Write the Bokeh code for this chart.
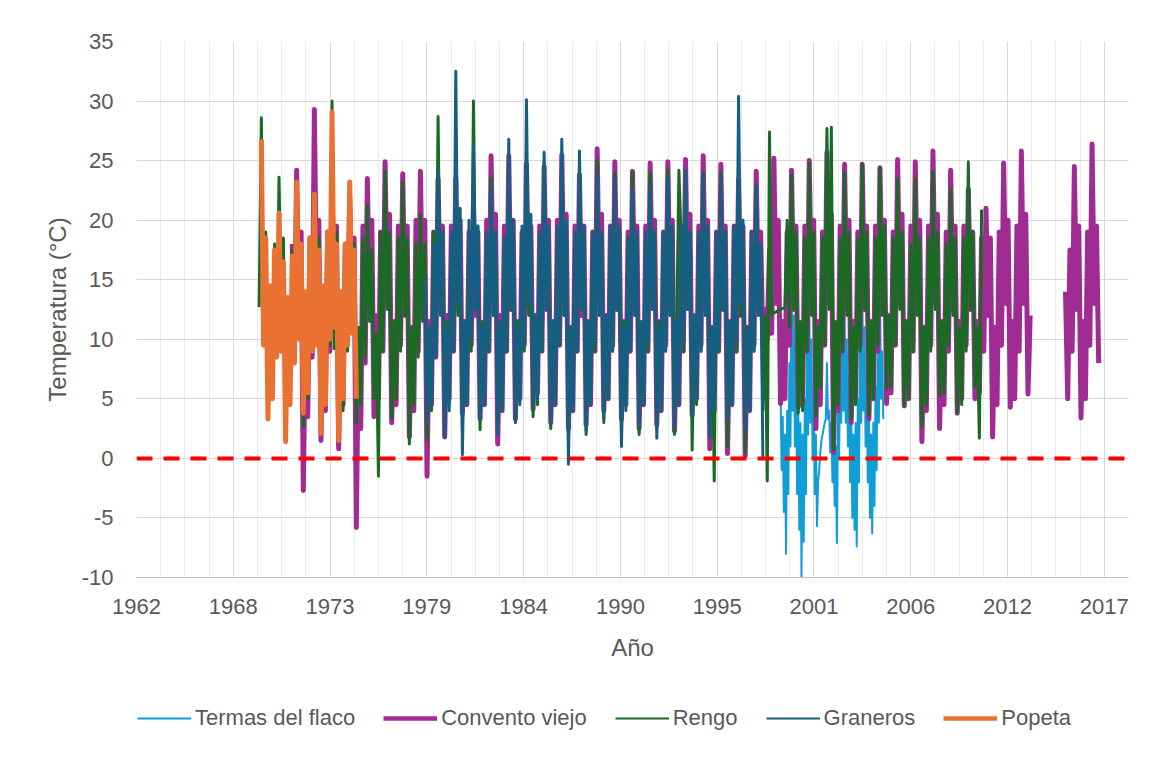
import datetime
from math import nan
from bokeh.plotting import figure
from bokeh.layouts import column
from bokeh.models import (Range1d, FixedTicker, Span, Legend, LegendItem)
from bokeh.embed import file_html
from bokeh.resources import INLINE

# ---------------- data ----------------
# 8 readings per year (about every 1.5 months), first reading near early January.
# nan = no data.
popeta_start = 1970
popeta = [
    26.8, 9.5, 18.5, 3.3, 14.5, 5.0, 17.5, 8.5,   # 1970
    20.6, 9.0, 16.5, 1.4, 13.5, 4.5, 17.0, 8.0,   # 1971
    23.2, 10.0, 18.0, 3.8, 14.0, 5.5, 18.5, 9.0,  # 1972
    22.2, 9.5, 17.5, 2.1, 14.5, 4.5, 19.0, 10.0,  # 1973
    29.1, 11.0, 18.0, 1.5, 14.0, 5.0, 18.0, 9.5,  # 1974
    23.2, 10.5, 17.5, 5.0,                         # 1975
]

convento_start = 1971
convento = [
    nan, nan, nan, nan, nan, nan, 18.0, 9.5,      # 1971
    24.2, 12.5, 19.0, -2.7, 11.0, 3.5, 18.5, 8.5, # 1972
    29.3, 13.0, 20.0, 1.5, 12.0, 4.0, 19.0, 9.0,  # 1973
    23.0, 12.0, 19.5, 0.8, 11.5, 4.5, 18.0, 9.5,  # 1974
    22.0, 11.5, 18.5, -5.8, 10.5, 2.5, 19.5, 8.0, # 1975
    23.5, 12.5, 20.0, 3.5, 12.0, 5.0, 19.0, 9.0,  # 1976
    24.9, 13.0, 20.5, 3.0, 11.5, 4.5, 19.5, 9.5,  # 1977
    23.9, 12.0, 19.5, 1.8, 11.0, 4.0, 20.0, 9.0,  # 1978
    24.1, 12.5, 20.0, -1.5, 11.5, 4.5, 19.0, 8.5, # 1979
    23.5, 13.0, 19.5, 1.8, 12.0, 5.0, 19.5, 9.0,  # 1980
    23.5, 12.5, 20.0, 3.8, 11.5, 4.5, 19.0, 9.5,  # 1981
    21.5, 12.0, 19.0, 3.3, 11.0, 4.5, 20.0, 9.0,  # 1982
    25.4, 13.0, 20.5, 1.2, 12.0, 4.0, 19.5, 9.0,  # 1983
    25.4, 12.5, 20.0, 3.3, 11.5, 5.0, 19.0, 9.5,  # 1984
    24.7, 13.0, 19.5, 4.1, 12.0, 5.5, 19.5, 9.0,  # 1985
    24.5, 12.5, 20.0, 3.0, 11.5, 4.5, 20.0, 9.5,  # 1986
    25.5, 13.0, 20.5, 2.5, 11.0, 4.0, 19.5, 9.0,  # 1987
    23.8, 12.0, 19.5, 2.8, 11.5, 4.5, 19.0, 9.0,  # 1988
    26.0, 13.0, 20.5, 4.0, 12.0, 5.0, 19.5, 9.5,  # 1989
    24.9, 12.5, 20.0, 3.3, 11.5, 4.5, 19.0, 9.0,  # 1990
    24.1, 12.5, 19.5, 2.5, 11.0, 4.5, 19.5, 9.0,  # 1991
    24.8, 13.0, 20.0, 2.8, 11.5, 4.0, 19.0, 9.5,  # 1992
    24.9, 12.5, 20.0, 2.3, 11.0, 4.5, 19.5, 9.0,  # 1993
    25.1, 13.0, 20.5, 3.6, 12.0, 5.0, 19.5, 9.5,  # 1994
    25.4, 12.5, 20.0, 0.8, 11.0, 4.0, 19.0, 9.0,  # 1995
    24.7, 12.5, 19.5, 0.4, 11.5, 4.5, 19.5, 9.0,  # 1996
    23.5, 12.0, 19.5, 0.2, 11.0, 4.0, 19.0, 9.5,  # 1997
    24.1, 12.5, 19.0, 9.5, 12.5, 10.0, 17.5, 10.5,# 1998
    25.2, 13.0, 20.0, 4.6, 11.5, 5.0, 19.0, 9.5,  # 1999
    24.2, 12.5, 19.5, 4.3, 11.0, 4.5, 19.5, 9.0,  # 2000
    25.0, 13.0, 20.0, 2.5, 11.5, 4.5, 19.0, 9.5,  # 2001
    25.7, 13.0, 20.5, 0.5, 11.0, 4.0, 19.5, 9.0,  # 2002
    24.7, 12.5, 20.0, 3.0, 11.5, 5.0, 19.0, 9.5,  # 2003
    24.7, 12.5, 19.5, 3.3, 11.5, 5.0, 19.5, 9.0,  # 2004
    24.4, 13.0, 20.0, 4.6, 12.0, 5.5, 19.0, 9.5,  # 2005
    25.1, 13.0, 20.5, 4.4, 11.5, 5.0, 19.5, 9.0,  # 2006
    24.9, 12.5, 20.0, 1.4, 11.0, 4.0, 19.5, 9.5,  # 2007
    25.8, 13.0, 20.5, 2.5, 11.5, 4.5, 19.0, 9.0,  # 2008
    24.2, 12.5, 19.5, 3.8, 11.5, 5.0, 19.5, 9.5,  # 2009
    22.6, 12.5, 19.0, 5.0, 11.5, 5.5, 18.5, 9.0,  # 2010
    21.0, 12.0, 18.5, 1.8, 11.0, 4.5, 19.0, 9.5,  # 2011
    24.8, 13.0, 20.0, 4.3, 11.5, 5.0, 19.5, 9.0,  # 2012
    25.8, 13.0, 20.5, 5.4, 12.0, nan, nan, nan,   # 2013
    nan, nan, nan, nan, nan, nan, nan, nan,       # 2014
    nan, nan, nan, nan, 14.0, 5.0, 17.5, 9.0,     # 2015
    24.5, 12.5, 19.5, 3.4, 11.5, 5.0, 19.0, 9.5,  # 2016
    26.4, 13.0, 19.5, 8.0,                         # 2017
]

rengo_start = 1969
rengo = [
    nan, nan, nan, nan, nan, nan, nan, 12.7,      # 1969
    28.6, 12.0, 19.0, 3.5, 11.0, 5.0, 18.0, 9.0,  # 1970
    23.6, 12.5, 18.5, 2.5, 11.5, 4.5, 17.5, 8.5,  # 1971
    21.0, 12.0, 18.0, 2.7, 11.0, 5.0, 18.5, 9.0,  # 1972
    22.0, 12.5, 18.5, 2.5, 11.5, 4.5, 18.0, 9.5,  # 1973
    30.0, 9.2, 19.0, 2.0, 11.0, 4.0, 18.0, 9.0,   # 1974
    22.0, 12.0, 18.0, 3.0, 11.0, 4.5, 18.5, 8.5,  # 1975
    21.2, 11.5, 17.5, 5.0, 10.5, -1.5, 19.0, 9.0, # 1976
    24.1, 12.5, 19.0, 3.4, 11.5, 5.0, 18.5, 9.0,  # 1977
    23.2, 12.0, 18.5, 1.2, 11.0, 4.5, 18.0, 8.5,  # 1978
    20.5, 11.5, 18.0, 1.5, 11.0, 4.0, 19.0, 9.0,  # 1979
    28.7, 12.5, 19.0, 2.0, 11.5, 4.5, 18.5, 9.0,  # 1980
    24.0, 12.0, 19.0, 2.5, 11.0, 4.5, 18.0, 9.0,  # 1981
    30.0, 12.5, 19.5, 2.4, 11.5, 5.0, 18.5, 9.5,  # 1982
    23.5, 12.0, 18.5, 3.0, 11.0, 4.5, 18.0, 9.0,  # 1983
    25.4, 12.5, 19.0, 3.0, 11.5, 5.0, 18.5, 9.0,  # 1984
    24.0, 12.0, 18.5, 3.5, 11.0, 4.5, 18.0, 9.0,  # 1985
    25.0, 12.5, 19.0, 2.5, 11.5, 5.0, 18.5, 9.5,  # 1986
    24.0, 12.0, 18.5, 1.5, 11.0, 4.5, 18.0, 9.0,  # 1987
    24.5, 12.5, 19.0, 2.0, 11.5, 4.5, 18.5, 9.0,  # 1988
    25.0, 12.0, 18.5, 3.0, 11.0, 5.0, 18.0, 9.0,  # 1989
    24.0, 12.5, 19.0, 2.0, 11.5, 4.5, 18.5, 9.5,  # 1990
    24.0, 12.0, 18.5, 2.0, 11.0, 4.5, 18.0, 9.0,  # 1991
    24.0, 12.5, 19.0, 2.5, 11.5, 5.0, 18.5, 9.0,  # 1992
    24.2, 12.0, 18.5, 2.0, 11.0, 24.2, 18.5, 9.0, # 1993
    24.0, 12.5, 19.0, 0.7, 11.5, 4.5, 18.5, 9.0,  # 1994
    24.0, 12.0, 18.5, 3.0, 11.0, -1.9, 18.0, 9.0, # 1995
    24.0, 12.5, 19.0, 1.0, 11.5, 4.5, 18.5, 9.0,  # 1996
    23.5, 12.0, 18.5, 0.5, 11.0, 4.5, 18.0, 9.0,  # 1997
    23.0, 12.0, 18.0, 4.0, 12.0, -1.9, 27.4, 12.1,# 1998
    12.2, 12.3, 12.4, 12.5, 12.6, 12.7, 20.0, 11.0,# 1999
    23.8, 12.5, 19.0, 3.8, 11.5, 4.0, 18.5, 9.0,  # 2000
    24.8, 12.0, 19.0, 3.5, 11.0, 5.9, 18.5, 9.5,  # 2001
    27.7, 12.5, 27.8, 0.7, 11.5, 4.5, 18.5, 9.0,  # 2002
    24.0, 12.0, 19.0, 3.3, 11.0, 4.5, 18.5, 9.0,  # 2003
    24.7, 12.5, 19.0, 3.7, 11.5, 5.0, 18.5, 9.5,  # 2004
    24.4, 12.0, 19.5, 5.9, 12.0, 6.0, 18.5, 9.5,  # 2005
    23.5, 12.5, 19.0, 4.4, 11.5, 5.0, 18.0, 9.0,  # 2006
    23.5, 12.0, 18.5, 2.7, 11.0, 4.5, 18.5, 9.0,  # 2007
    24.1, 12.5, 19.0, 5.3, 11.5, 5.5, 18.0, 9.5,  # 2008
    22.6, 12.0, 18.5, 3.8, 11.0, 4.5, 18.5, 9.0,  # 2009
    24.9, 12.5, 19.0, 6.0, 11.0, 1.7, 20.9,       # 2010
]

graneros_start = 1979
graneros = [
    nan, nan, 15.0, 3.0, 11.0, 4.5, 18.0, 8.5,    # 1979
    24.1, 12.0, 19.0, 1.8, 11.0, 4.0, 19.0, 9.0,  # 1980
    32.5, 13.0, 21.0, 0.3, 11.5, 4.5, 20.0, 10.0, # 1981
    26.4, 12.5, 19.5, 3.3, 11.0, 4.5, 19.0, 9.0,  # 1982
    22.9, 12.0, 19.0, 2.0, 11.5, 4.0, 18.5, 9.0,  # 1983
    26.8, 12.5, 20.0, 3.1, 11.0, 4.5, 19.5, 9.5,  # 1984
    30.1, 13.0, 20.5, 4.4, 12.0, 5.0, 19.0, 9.0,  # 1985
    25.7, 12.5, 19.5, 3.0, 11.5, 4.5, 19.5, 9.5,  # 1986
    26.8, 12.0, 20.0, -0.5, 11.0, 4.0, 19.0, 9.0, # 1987
    25.8, 12.5, 19.5, 2.3, 11.5, 4.5, 19.0, 9.5,  # 1988
    24.1, 12.0, 19.0, 3.3, 12.0, 5.0, 19.5, 9.0,  # 1989
    23.6, 12.5, 19.5, 1.0, 11.0, 4.0, 18.5, 9.0,  # 1990
    22.6, 12.0, 19.0, 2.7, 11.5, 4.5, 19.0, 9.5,  # 1991
    22.9, 12.5, 19.0, 1.7, 11.0, 4.0, 19.0, 9.0,  # 1992
    23.5, 12.0, 19.5, 2.7, 11.5, 4.5, 19.5, 9.5,  # 1993
    24.2, 12.5, 19.0, 3.6, 12.0, 5.0, 19.0, 9.0,  # 1994
    23.8, 12.0, 19.5, 1.8, 11.0, 4.0, 19.0, 9.0,  # 1995
    23.5, 12.5, 19.0, 3.3, 11.5, 4.5, 19.5, 9.5,  # 1996
    30.4, 13.0, 20.0, 2.5, 11.0, 4.0, 19.0, 9.0,  # 1997
    22.9, 12.0, 18.0, 0.1,                         # 1998
]

# Termas del flaco: 16 readings per year
termas_start = 1999
termas = [
    nan, nan, nan, nan, nan, nan, 5.9, -1.0, 3.5, -4.5, 2.0, -8.0, 4.0, -3.0, 8.0, 1.0,          # 1999
    15.1, 4.0, 12.0, 1.0, 8.0, -3.0, 5.0, -6.0, 3.0, -10.0, 2.0, -7.0, 5.0, -3.0, 9.0, 2.0,      # 2000
    13.1, 3.0, 10.0, 0.0, 6.0, -3.0, 2.0, -5.7, -1.9, -1.0, 0.5, 1.5, 2.0, 2.5, 3.0, 3.3,        # 2001
    8.0, 3.3, 4.0, 0.5, 3.0, -2.0, 2.0, -4.0, 1.0, -7.1, 4.0, 0.0, 8.0, 3.0, 13.7, 4.0,          # 2002
    12.0, 3.0, 10.0, 1.0, 7.0, -2.0, 4.0, -5.0, 2.0, -6.0, 3.0, -7.4, 5.0, -2.0, 9.0, 3.0,       # 2003
    14.8, 4.0, 11.0, 1.0, 7.0, -2.0, 4.0, -5.0, 2.0, -6.3, 3.0, -4.0, 6.0, -1.0, 10.0, 3.0,      # 2004
    13.7, 5.0, 9.0, 3.3,                                                                          # 2005
]

series_names = ["Termas del flaco", "Convento viejo", "Rengo", "Graneros", "Popeta"]
series_colors = ["#0F9ED5", "#A02B93", "#196B24", "#156082", "#E97132"]
readings_per_year = [16, 8, 8, 8, 8]
data_widths = [2, 5, 3, 3, 5]          # drawn width of the dense traces
legend_widths = [2, 4.5, 2.2, 2.2, 4.5]

# Excel date axis (serial days): labels every 2000 days, grid every 500 days
x_tick_serials = [23000, 25000, 27000, 29000, 31000, 33000, 35000, 37000, 39000, 41000, 43000]
x_tick_labels = ["1962", "1968", "1973", "1979", "1984", "1990", "1995", "2001", "2006", "2012", "2017"]
x_min_serial, x_max_serial, x_minor_step = 23000, 43500, 500
y_ticks = [-10, -5, 0, 5, 10, 15, 20, 25, 30, 35]

# ---------------- helpers ----------------
EPOCH = datetime.date(1899, 12, 30)
PHASE = 0.03


def year_to_serial(y):
    yr = int(y)
    d0 = datetime.date(yr, 1, 1)
    d1 = datetime.date(yr + 1, 1, 1)
    return (d0 - EPOCH).days + (y - yr) * (d1 - d0).days


def times(start, vals, per_year):
    return [year_to_serial(start + PHASE + i / per_year) for i in range(len(vals))]


FONT = "Liberation Sans"
TXT = "#595959"
FS = "22px"

p = figure(frame_width=992, frame_height=536,
           x_range=Range1d(x_min_serial, x_max_serial), y_range=Range1d(-10, 35),
           output_backend="svg", toolbar_location=None,
           min_border_left=136, min_border_right=44, min_border_top=41, min_border_bottom=103)
p.outline_line_color = None
p.background_fill_color = "white"
p.border_fill_color = "white"

# grids
p.xgrid.ticker = FixedTicker(ticks=x_tick_serials,
                             minor_ticks=list(range(x_min_serial, x_max_serial + 1, x_minor_step)))
p.xgrid.grid_line_color = "#d9d9d9"
p.xgrid.minor_grid_line_color = "#ececec"
p.ygrid.ticker = FixedTicker(ticks=y_ticks)
p.ygrid.grid_line_color = "#d9d9d9"

# axes
p.xaxis.ticker = FixedTicker(ticks=x_tick_serials)
p.xaxis.major_label_overrides = dict(zip(x_tick_serials, x_tick_labels))
p.yaxis.ticker = FixedTicker(ticks=y_ticks)
p.yaxis.major_label_overrides = {t: str(t) for t in y_ticks}
for ax in (p.xaxis, p.yaxis):
    ax.major_tick_out = 0
    ax.major_tick_in = 0
    ax.minor_tick_out = 0
    ax.minor_tick_in = 0
    ax.major_label_text_font = FONT
    ax.major_label_text_font_size = FS
    ax.major_label_text_color = TXT
    ax.axis_label_text_font = FONT
    ax.axis_label_text_font_size = "24px"
    ax.axis_label_text_font_style = "normal"
    ax.axis_label_text_color = TXT
p.xaxis.axis_line_color = "#bfbfbf"
p.yaxis.axis_line_color = None
p.xaxis.axis_label = "Año"
p.yaxis.axis_label = "Temperatura (°C)"
p.xaxis.major_label_standoff = 21
p.xaxis.axis_label_standoff = 17
p.yaxis.major_label_standoff = 23
p.yaxis.axis_label_standoff = 8

data = [(termas_start, termas), (convento_start, convento), (rengo_start, rengo),
        (graneros_start, graneros), (popeta_start, popeta)]
for (start, vals), col, w, n in zip(data, series_colors, data_widths, readings_per_year):
    p.line(times(start, vals, n), vals, line_color=col, line_width=w, line_join="round")

p.add_layout(Span(location=0, dimension="width", line_color="#FF0000",
                  line_width=4, line_dash="16 11"))

# ---------------- legend strip below the chart ----------------
# Same borders as the chart so the two frames line up; the series are drawn again
# here (outside this strip's visible y-range) only to provide the legend swatches.
pl = figure(frame_width=992, frame_height=77,
            x_range=Range1d(x_min_serial, x_max_serial), y_range=Range1d(1000, 1001),
            output_backend="svg", toolbar_location=None,
            min_border_left=136, min_border_right=44, min_border_top=0, min_border_bottom=0,
            x_axis_type=None, y_axis_type=None)
pl.outline_line_color = None
pl.grid.visible = False
pl.background_fill_color = "white"
pl.border_fill_color = "white"
swatches = [pl.line(times(start, vals, n), vals, line_color=c, line_width=lw)
            for (start, vals), c, lw, n in zip(data, series_colors, legend_widths, readings_per_year)]
legend = Legend(items=[LegendItem(label=nm, renderers=[r]) for nm, r in zip(series_names, swatches)],
                orientation="horizontal", location=(1, 26))
legend.label_text_font = FONT
legend.label_text_font_size = FS
legend.label_text_color = TXT
legend.glyph_width = 54
legend.glyph_height = 20
legend.label_standoff = 4
legend.spacing = 28
legend.padding = 0
legend.margin = 0
legend.border_line_color = None
legend.background_fill_alpha = 0
pl.add_layout(legend, "center")

layout = column(p, pl, spacing=0)
open("out.html", "w").write(file_html(layout, INLINE))
